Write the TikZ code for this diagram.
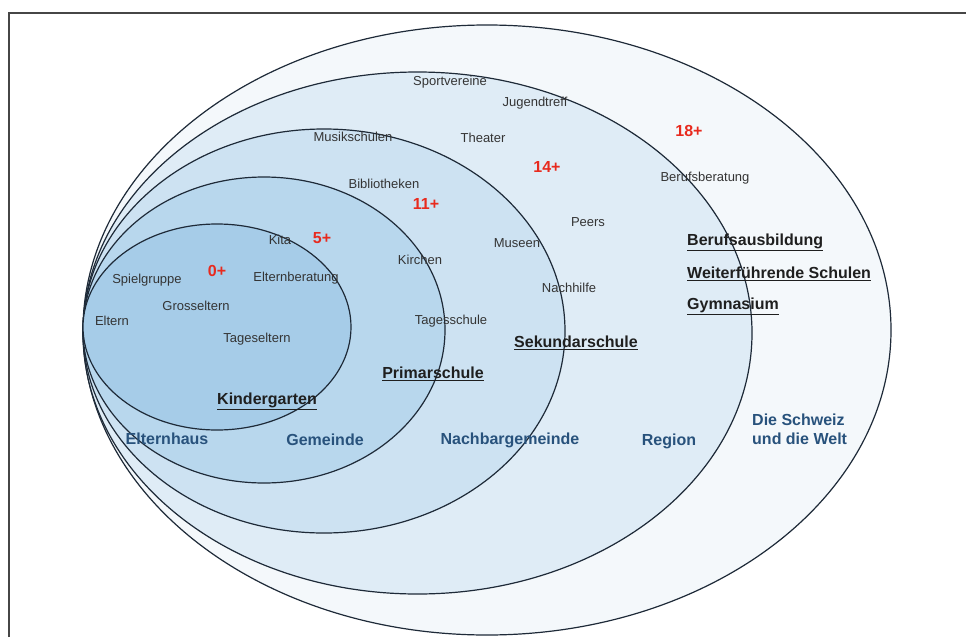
\documentclass[tikz,border=0pt]{standalone}
\usepackage{fontspec}
\setmainfont{Liberation Sans}
\usepackage{xcolor}
\definecolor{lineNavy}{RGB}{30,42,56}
\definecolor{frameGrey}{RGB}{70,70,70}
\definecolor{zoneWelt}{RGB}{244,248,251}
\definecolor{zoneRegion}{RGB}{223,236,246}
\definecolor{zoneNachbar}{RGB}{205,226,242}
\definecolor{zoneGemeinde}{RGB}{184,215,237}
\definecolor{zoneHaus}{RGB}{166,204,232}
\definecolor{placeBlue}{RGB}{40,82,124}
\definecolor{ageRed}{RGB}{232,42,30}
\definecolor{itemGrey}{RGB}{52,52,52}
\tikzset{
  ring/.style={draw=lineNavy,line width=1.2pt},
  item/.style={inner sep=0pt,text=itemGrey,font=\fontsize{13}{15}\selectfont},
  ageplus/.style={inner sep=0pt,text=ageRed,font=\bfseries\fontsize{16}{18}\selectfont},
  place/.style={inner sep=0pt,text=placeBlue,font=\bfseries\fontsize{16}{19}\selectfont,align=left},
  school/.style={inner sep=0pt,text=black!88,font=\bfseries\fontsize{16}{18}\selectfont}
}
\begin{document}
\begin{tikzpicture}[x=1pt,y=-1pt]
\useasboundingbox (0,0) rectangle (966,637);
\fill[white] (0,0) rectangle (966,637);
\draw[frameGrey,line width=1.4pt] (9,637) -- (9,13) -- (966,13);

\filldraw[ring,fill=zoneWelt]     (487,330) ellipse [x radius=404pt,y radius=305pt];
\filldraw[ring,fill=zoneRegion]   (417.5,333) ellipse [x radius=334.5pt,y radius=261pt];
\filldraw[ring,fill=zoneNachbar]  (324,331) ellipse [x radius=241pt,y radius=202pt];
\filldraw[ring,fill=zoneGemeinde] (264,330) ellipse [x radius=181pt,y radius=153pt];
\filldraw[ring,fill=zoneHaus]     (217,327) ellipse [x radius=134pt,y radius=103pt];

\node[item] (sport)   at (450,82)  {Sportvereine};
\node[item] (jugend)  at (535,103) {Jugendtreff};
\node[item] (musik)   at (353,137) {Musikschulen};
\node[item] (theater) at (483,138) {Theater};
\node[item] (biblio)  at (384,184) {Bibliotheken};
\node[item] (beruf)   at (705,178) {Berufsberatung};
\node[item] (peers)   at (588,222) {Peers};
\node[item] (kita)    at (280,240) {Kita};
\node[item] (museen)  at (517,243) {Museen};
\node[item] (kirchen) at (420,260) {Kirchen};
\node[item] (spiel)   at (147,280) {Spielgruppe};
\node[item] (elternb) at (296,278) {Elternberatung};
\node[item] (nachh)   at (569,288) {Nachhilfe};
\node[item] (gross)   at (196,306) {Grosseltern};
\node[item] (eltern)  at (112,321) {Eltern};
\node[item] (tagesch) at (451,321) {Tagesschule};
\node[item] (tagese)  at (257,339) {Tageseltern};

\node[ageplus] (age0)  at (217,271) {0+};
\node[ageplus] (age5)  at (322,238) {5+};
\node[ageplus] (age11) at (426,204) {11+};
\node[ageplus] (age14) at (547,167) {14+};
\node[ageplus] (age18) at (689,131) {18+};

\node[school] (kiga)  at (267,401) {\underline{Kindergarten}};
\node[school] (prim)  at (433,374) {\underline{Primarschule}};
\node[school] (sek)   at (576,343) {\underline{Sekundarschule}};
\node[school,anchor=west] (ausb) at (687,242) {\underline{Berufsausbildung}};
\node[school,anchor=west] (wfs)  at (687,274) {\underline{Weiterführende Schulen}};
\node[school,anchor=west] (gym)  at (687,306) {\underline{Gymnasium}};

\node[place] (haus)   at (167,439) {Elternhaus};
\node[place] (gem)    at (325,440) {Gemeinde};
\node[place] (nachb)  at (510,440) {Nachbargemeinde};
\node[place] (region) at (669,441) {Region};
\node[place,anchor=west] (welt) at (752,429) {Die Schweiz\\und die Welt};
\end{tikzpicture}
\end{document}
